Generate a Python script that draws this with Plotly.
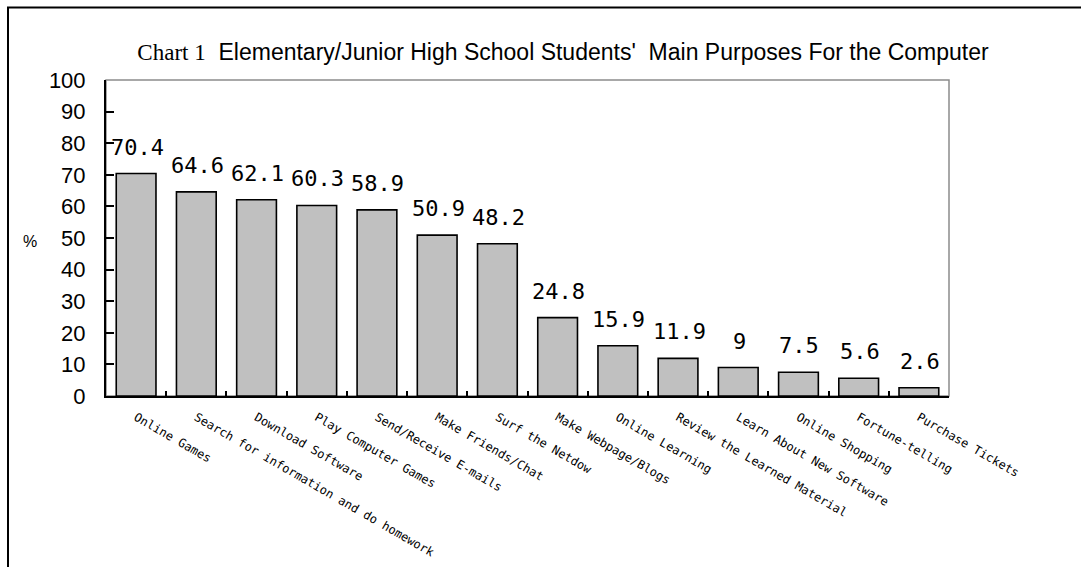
import plotly.graph_objects as go

categories = [
    "Online Games",
    "Search for information and do homework",
    "Download Software",
    "Play Computer Games",
    "Send/Receive E-mails",
    "Make Friends/Chat",
    "Surf the Netdow",
    "Make Webpage/Blogs",
    "Online Learning",
    "Review the Learned Material",
    "Learn About New Software",
    "Online Shopping",
    "Fortune-telling",
    "Purchase Tickets",
]
values = [70.4, 64.6, 62.1, 60.3, 58.9, 50.9, 48.2, 24.8, 15.9, 11.9, 9, 7.5, 5.6, 2.6]
y_ticks = [0, 10, 20, 30, 40, 50, 60, 70, 80, 90, 100]

W, H = 1081, 567
ML, MR, MT, MB = 106, 132, 80, 171
PW, PH = W - ML - MR, H - MT - MB


def px_x(px):
    return (px - ML) / PW


def px_y(py):
    return (H - MB - py) / PH


fig = go.Figure()
fig.add_trace(go.Bar(
    x=categories,
    y=values,
    width=0.66,
    marker=dict(color="#C0C0C0", line=dict(color="black", width=1.6)),
    hoverinfo="x+y",
))

for c, v in zip(categories, values):
    fig.add_annotation(
        x=c, y=v, text=str(v), showarrow=False,
        yanchor="bottom", xanchor="center", yshift=12, xshift=1,
        font=dict(family="DejaVu Sans Mono", size=22, color="black"),
    )

fig.add_annotation(
    xref="paper", yref="paper", x=px_x(30), y=px_y(241),
    text="%", showarrow=False, xanchor="center", yanchor="middle",
    font=dict(family="Liberation Sans", size=16, color="black"),
)

# plot-area gray frame
fig.add_shape(type="rect", xref="paper", yref="paper", x0=0, x1=1, y0=0, y1=1,
              line=dict(color="#8C8C8C", width=1.5), layer="below")
# outer frame
fig.add_shape(type="line", xref="paper", yref="paper",
              x0=px_x(8), x1=px_x(8), y0=px_y(7), y1=px_y(H + 10),
              line=dict(color="black", width=2))
fig.add_shape(type="line", xref="paper", yref="paper",
              x0=px_x(7), x1=px_x(W + 10), y0=px_y(7.5), y1=px_y(7.5),
              line=dict(color="black", width=2))

fig.update_layout(
    width=W, height=H,
    margin=dict(l=ML, r=MR, t=MT, b=MB, autoexpand=False),
    paper_bgcolor="white", plot_bgcolor="white",
    showlegend=False,
    bargap=0.34,
    title=dict(
        text="<span style='font-family:Liberation Serif'>Chart 1</span>  Elementary/Junior High School Students'  Main Purposes For the Computer",
        x=563 / W, xanchor="center", y=1 - 52 / H, yanchor="middle",
        font=dict(family="Liberation Sans", size=23, color="black"),
    ),
    xaxis=dict(
        type="category",
        showline=True, linecolor="black", linewidth=2,
        ticks="inside", ticklen=5, tickwidth=1.5, tickcolor="black",
        tickson="boundaries",
        tickangle=30,
        tickfont=dict(family="DejaVu Sans Mono", size=12, color="black"),
        showgrid=False, zeroline=False,
        range=[-0.5, len(categories) - 0.5],
        ticklabelstandoff=8,
    ),
    yaxis=dict(
        range=[0, 100],
        tickvals=y_ticks,
        showline=True, linecolor="black", linewidth=2,
        ticks="inside", ticklen=8, tickwidth=1.5, tickcolor="black",
        tickfont=dict(family="Liberation Sans", size=22, color="black"),
        showgrid=False, zeroline=False,
        ticklabelstandoff=14,
    ),
)

fig.write_html("out.html")
